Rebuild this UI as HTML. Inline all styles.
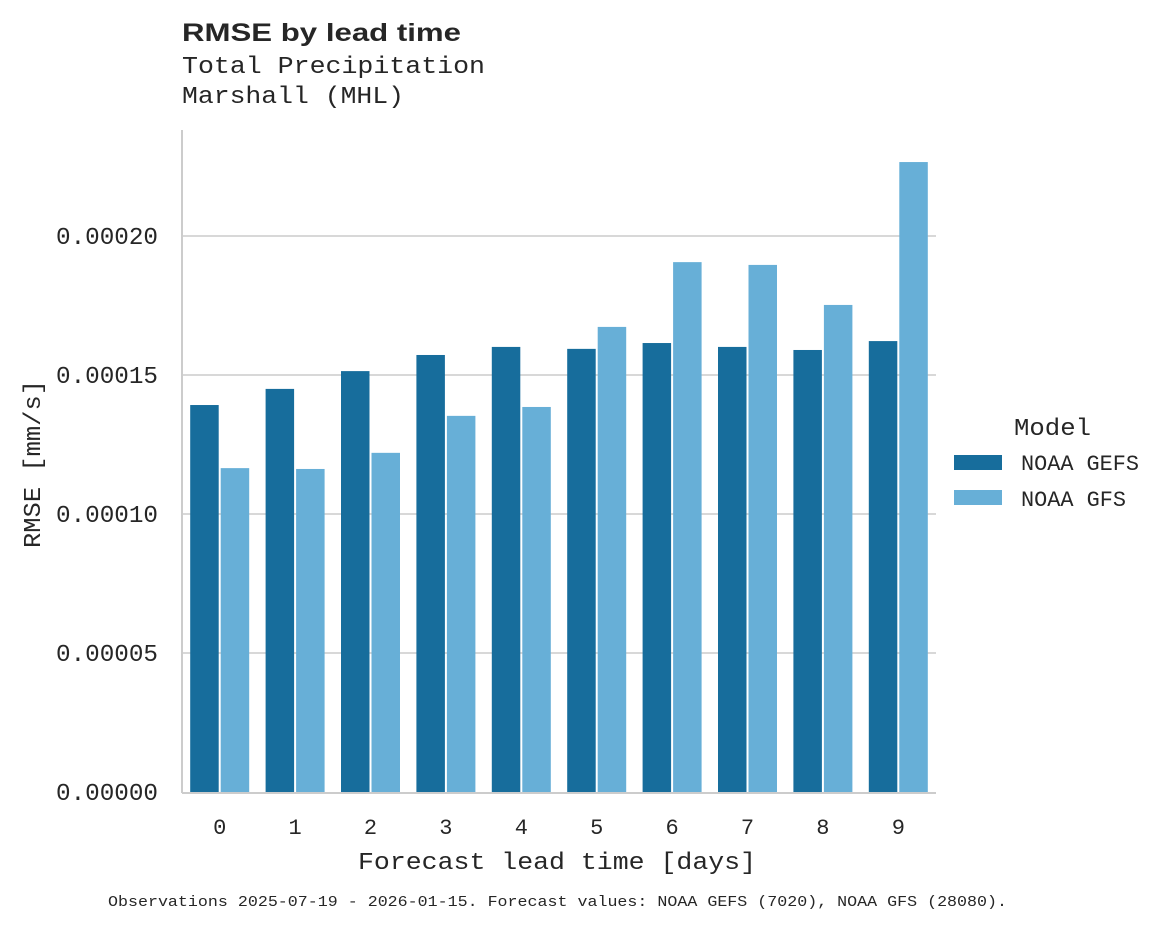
<!DOCTYPE html>
<html><head><meta charset="utf-8">
<style>
body{margin:0;background:#fff;}
svg text{fill:#262626;}
.mono{font-family:"Liberation Mono","DejaVu Sans Mono",monospace;}
</style></head>
<body>
<svg id="chart" width="1175" height="928" xmlns="http://www.w3.org/2000/svg">
<text x="182" y="41" font-family="Liberation Sans, DejaVu Sans, sans-serif" font-weight="bold" font-size="25" textLength="279" lengthAdjust="spacingAndGlyphs">RMSE by lead time</text>
<text class="mono" x="182" y="73" font-size="24" textLength="303" lengthAdjust="spacingAndGlyphs">Total Precipitation</text>
<text class="mono" x="182" y="103" font-size="24" textLength="222" lengthAdjust="spacingAndGlyphs">Marshall (MHL)</text>
<g id="grid"></g>
<g id="bars"></g>
<g id="axes"></g>
<text class="mono" x="358" y="869" font-size="24" textLength="398" lengthAdjust="spacingAndGlyphs">Forecast lead time [days]</text>
<text class="mono" transform="translate(40,464) rotate(-90)" font-size="24" text-anchor="middle" textLength="168" lengthAdjust="spacingAndGlyphs">RMSE [mm/s]</text>
<g>
<text class="mono" x="1014" y="435" font-size="24" textLength="77" lengthAdjust="spacingAndGlyphs">Model</text>
<rect x="954" y="455" width="48" height="15" fill="#176d9c"/>
<text class="mono" x="1021" y="470" font-size="22" textLength="118" lengthAdjust="spacingAndGlyphs">NOAA GEFS</text>
<rect x="954" y="490" width="48" height="15" fill="#67afd7"/>
<text class="mono" x="1021" y="506" font-size="22" textLength="105" lengthAdjust="spacingAndGlyphs">NOAA GFS</text>
</g>
<text class="mono" x="108" y="906" font-size="15" textLength="899" lengthAdjust="spacingAndGlyphs">Observations 2025-07-19 - 2026-01-15. Forecast values: NOAA GEFS (7020), NOAA GFS (28080).</text>
</svg>
<script>
const categories=[0,1,2,3,4,5,6,7,8,9];
const gefsValues=[0.0001392,0.000145,0.0001514,0.0001572,0.0001601,0.0001594,0.0001615,0.0001601,0.000159,0.0001622];
const gfsValues=[0.0001165,0.0001162,0.000122,0.0001353,0.0001385,0.0001673,0.0001906,0.0001896,0.0001752,0.0002266];
const yTicks=[0,0.00005,0.0001,0.00015,0.0002];
const yTickLabels=["0.00000","0.00005","0.00010","0.00015","0.00020"];
const NS="http://www.w3.org/2000/svg";
const L=182,R=936,T=130,B=792;
const y=v=>B-v/0.0002*556;
const step=(R-L)/categories.length;
const x=i=>L+step*(i+0.5);
function mk(tag,attrs,parent){const e=document.createElementNS(NS,tag);for(const k in attrs)e.setAttribute(k,attrs[k]);parent.appendChild(e);return e;}
const grid=document.getElementById('grid'),bars=document.getElementById('bars'),axes=document.getElementById('axes');
yTicks.forEach((t,i)=>{
  if(t>0){const g=mk('line',{x1:L,x2:R,y1:y(t),y2:y(t),stroke:'#cccccc','stroke-width':1.5},grid);
  
  }
  const tx=mk('text',{x:158,y:y(t)+8,'font-size':24,'text-anchor':'end',class:'mono',textLength:102,lengthAdjust:'spacingAndGlyphs'},axes);
  tx.textContent=yTickLabels[i];
  
  
});
const bw=28.5;
categories.forEach((c,i)=>{
  const b1=mk('rect',{x:x(i)-bw-1,y:y(gefsValues[i]),width:bw,height:B-y(gefsValues[i]),fill:'#176d9c'},bars);
  
  
  const b2=mk('rect',{x:x(i)+1,y:y(gfsValues[i]),width:bw,height:B-y(gfsValues[i]),fill:'#67afd7'},bars);
  
  
  const tx=mk('text',{x:x(i),y:834,'font-size':22,'text-anchor':'middle',class:'mono'},axes);
  tx.textContent=c;
  
  
});
const ya=mk('line',{x1:L,x2:L,y1:T,y2:B+1,stroke:'#cccccc','stroke-width':2},axes);


const xa=mk('line',{x1:L,x2:R,y1:B+1,y2:B+1,stroke:'#cccccc','stroke-width':2},axes);


</script>
</body></html>
